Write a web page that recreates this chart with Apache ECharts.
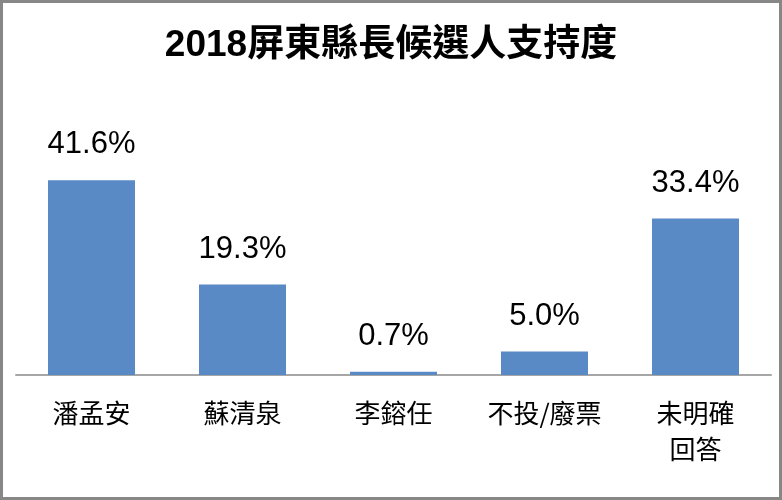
<!DOCTYPE html>
<html><head><meta charset="utf-8">
<script src="https://cdn.jsdelivr.net/npm/echarts@6/dist/echarts.min.js"></script>
<style>html,body{margin:0;padding:0;background:#fff}#c{width:782px;height:500px}</style>
</head><body><div id="c"></div>
<script>
const titleText = '2018屏東縣長候選人支持度';
const categories = ['潘孟安', '蘇清泉', '李鎔任', '不投/廢票', '未明確\n回答'];
const support = [41.6, 19.3, 0.7, 5.0, 33.4];

const chart = echarts.init(document.getElementById('c'));
chart.setOption({
  animation: false,
  backgroundColor: '#fff',
  title: {
    text: titleText, left: 'center', top: 22,
    textStyle: { fontFamily: 'Liberation Sans, "Noto Sans CJK TC", sans-serif', fontSize: 37, fontWeight: 'bold', color: '#000' }
  },
  graphic: [{
    type: 'rect', silent: true, z: 100,
    shape: { x: 1.5, y: 1.5, width: 779, height: 497 },
    style: { fill: 'none', stroke: '#878787', lineWidth: 3 }
  }],
  grid: { left: 16, right: 11, top: 94, bottom: 125, containLabel: false },
  xAxis: {
    type: 'category', data: categories,
    axisLine: { lineStyle: { color: '#a6a6a6', width: 2 } },
    axisTick: { show: false },
    axisLabel: {
      interval: 0, margin: 20, color: '#000', fontSize: 26, lineHeight: 36,
      fontFamily: '"Noto Sans CJK TC", sans-serif'
    }
  },
  yAxis: { type: 'value', min: 0, max: 60, show: false, splitLine: { show: false } },
  series: [{
    type: 'bar', data: support, barWidth: 87,
    itemStyle: { color: '#5A8AC6' },
    label: {
      show: true, position: 'top', distance: 20,
      formatter: p => p.value.toFixed(1) + '%',
      fontSize: 31, color: '#000', fontFamily: 'Liberation Sans, Arial, sans-serif'
    }
  }]
});
</script></body></html>
